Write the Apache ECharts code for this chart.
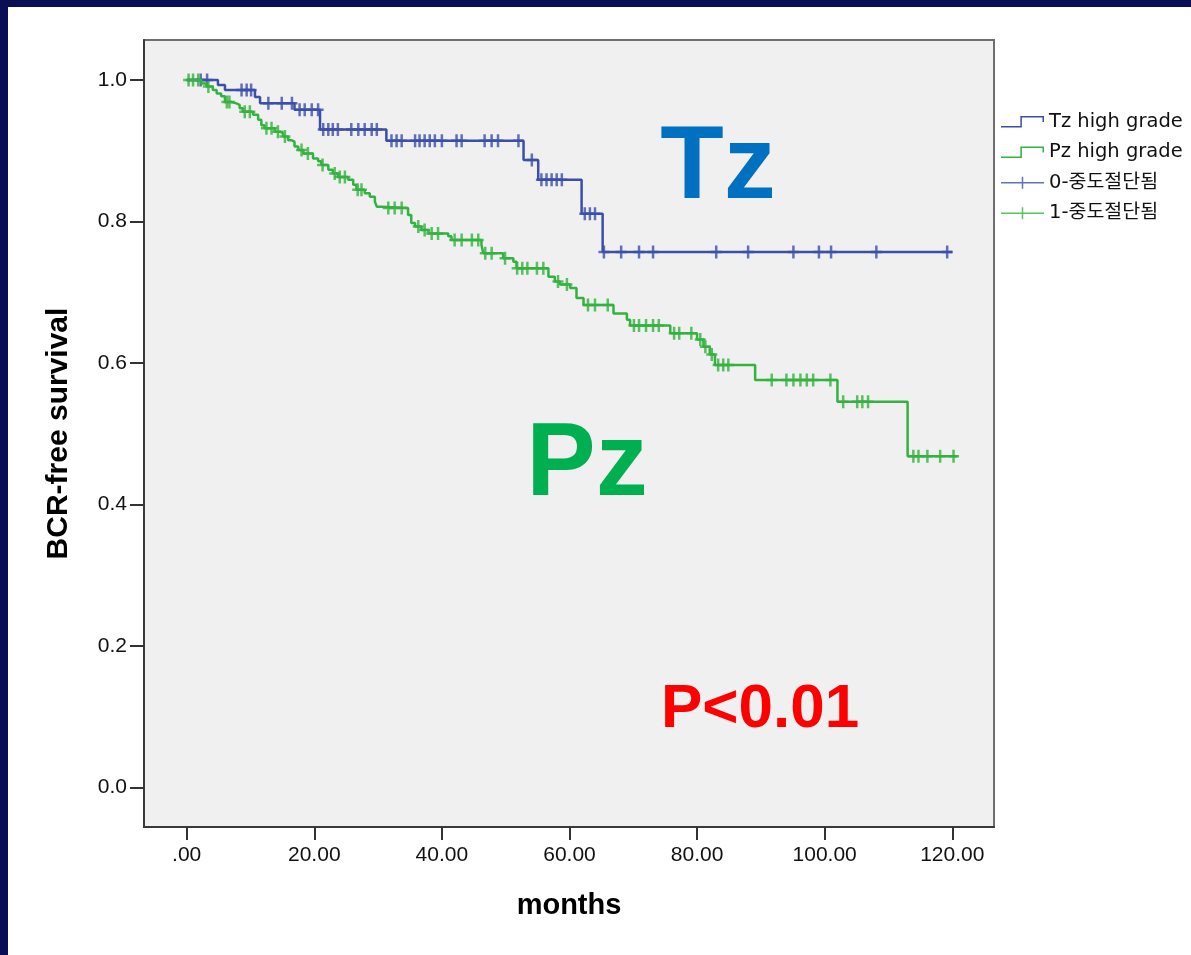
<!DOCTYPE html>
<html>
<head>
<meta charset="utf-8">
<title>BCR-free survival</title>
<script src="https://cdn.jsdelivr.net/npm/echarts@6.0.0/dist/echarts.min.js"></script>
<style>
  html, body { margin: 0; padding: 0; background: #fff; }
  #chart { width: 1191px; height: 955px; }
</style>
</head>
<body>
<div id="chart"></div>
<script>
// Kaplan-Meier steps: time (months) where survival drops, and the new level
const tzTimes = [0, 4.9, 6.0, 10.7, 11.5, 16.9, 20.9, 31.3, 52.8, 55.1, 61.9, 65.2, 120];
const tzSurv = [1.0, 0.993, 0.986, 0.976, 0.967, 0.958, 0.930, 0.914, 0.887, 0.859, 0.811, 0.757, 0.757];
const tzCensor = [2.2, 3.2, 8.6, 9.4, 10.1, 12.8, 14.9, 16.5, 17.7, 18.5, 19.6, 20.6, 21.4, 22.2, 22.9, 23.7,
  25.8, 26.9, 27.9, 29.0, 29.8, 32.1, 32.9, 33.7, 35.8, 36.5, 37.3, 38.1, 38.9, 40.0, 42.3, 43.1, 46.7, 47.8,
  48.8, 52.0, 54.1, 55.6, 56.4, 57.2, 58.0, 58.8, 62.4, 63.2, 64.0, 65.4, 68.1, 70.9, 73.1, 83.0, 88.0, 95.1,
  99.1, 101.0, 108.1, 119.2];

const pzTimes = [0, 2.3, 3.1, 4.1, 4.7, 5.4, 6.0, 7.0, 7.8, 8.3, 8.8, 10.4, 11.2, 11.7, 12.2, 13.8, 14.6, 15.1,
  15.9, 16.4, 16.9, 17.5, 18.3, 19.8, 20.6, 21.1, 22.2, 22.9, 23.7, 25.3, 26.1, 26.6, 27.9, 28.7, 29.5, 29.8,
  30.5, 34.7, 35.2, 35.8, 36.8, 37.9, 41.0, 41.5, 46.2, 46.5, 49.6, 51.2, 51.7, 56.7, 57.7, 58.5, 60.1, 61.1,
  62.2, 66.9, 69.0, 69.5, 75.8, 80.0, 81.0, 82.0, 82.8, 89.1, 102.0, 113.0, 120.8];
const pzSurv = [1.0, 0.995, 0.991, 0.986, 0.981, 0.977, 0.969, 0.967, 0.965, 0.960, 0.955, 0.951, 0.944, 0.936,
  0.932, 0.927, 0.925, 0.920, 0.915, 0.913, 0.906, 0.901, 0.896, 0.889, 0.885, 0.880, 0.873, 0.868, 0.863,
  0.859, 0.852, 0.845, 0.840, 0.835, 0.828, 0.821, 0.819, 0.809, 0.798, 0.793, 0.788, 0.783, 0.779, 0.774,
  0.767, 0.755, 0.748, 0.743, 0.734, 0.722, 0.715, 0.711, 0.706, 0.692, 0.682, 0.670, 0.661, 0.653, 0.642,
  0.633, 0.623, 0.612, 0.597, 0.576, 0.545, 0.468, 0.468];
const pzCensor = [0.3, 1.0, 1.8, 3.4, 6.3, 6.7, 9.1, 9.9, 12.5, 13.3, 14.3, 15.4, 18.0, 19.0, 21.3, 23.2, 24.0,
  24.8, 26.8, 27.4, 31.6, 32.6, 33.7, 36.3, 37.3, 38.4, 39.4, 42.0, 43.1, 44.7, 45.7, 46.8, 47.8, 49.9, 51.8,
  52.6, 53.4, 54.9, 55.9, 58.2, 59.6, 62.9, 64.0, 66.0, 70.1, 70.9, 72.0, 73.1, 74.0, 76.4, 77.2, 79.1, 80.5,
  81.3, 82.3, 83.3, 84.1, 84.9, 91.7, 94.0, 95.1, 96.2, 97.2, 98.2, 100.9, 102.9, 105.1, 105.9, 106.8, 113.9,
  114.7, 116.1, 118.1, 120.2];

const seriesNames = ['Tz high grade', 'Pz high grade', '0-중도절단됨', '1-중도절단됨'];
const xTicks = [0, 20, 40, 60, 80, 100, 120];
const yTicks = [0, 0.2, 0.4, 0.6, 0.8, 1.0];

const blue = '#3b4fa9';
const green = '#33b23f';
const font = "'Liberation Sans', Arial, sans-serif";

function stepData(times, surv) {
  return times.map((t, i) => [t, surv[i]]);
}
// censored cases sit on the curve level at their time
function censorData(censor, times, surv) {
  return censor.map(c => {
    let s = surv[0];
    times.forEach((t, i) => { if (t <= c) s = surv[i]; });
    return [c, s];
  });
}

const plusSymbol = 'path://M0,5.25h11v2.5h-11z M4.25,0h2.5v13h-2.5z';
const stepIcon = 'path://M0,10.5h20.75v1.5h-20.75z M19.25,0.5h1.5v11.5h-1.5z M19.25,0.5h23.5v1.5h-23.5z M41.25,0.5h1.5v6h-1.5z';
const plusIcon = 'path://M0,5.25h43v1.5h-43z M20.75,0h1.5v12h-1.5z';

const chart = echarts.init(document.getElementById('chart'));
chart.setOption({
  animation: false,
  backgroundColor: '#fff',
  grid: {
    left: 144, top: 40, width: 850, height: 787,
    show: true, backgroundColor: '#f0f0f0', borderColor: '#6e6e6e', borderWidth: 2
  },
  legend: {
    orient: 'vertical', left: 996, top: 107,
    itemWidth: 43, itemHeight: 12, itemGap: 11,
    selectedMode: false,
    itemStyle: { borderWidth: 0 },
    textStyle: { fontFamily: "'DejaVu Sans', 'Noto Sans CJK KR', sans-serif", fontSize: 19.5, color: '#111' },
    data: [
      { name: seriesNames[0], icon: stepIcon },
      { name: seriesNames[1], icon: stepIcon },
      { name: seriesNames[2], icon: plusIcon },
      { name: seriesNames[3], icon: plusIcon }
    ]
  },
  xAxis: {
    type: 'value', min: -6.69, max: 126.54,
    name: 'months', nameLocation: 'middle', nameGap: 64,
    nameTextStyle: { fontFamily: font, fontSize: 29, fontWeight: 'bold', color: '#000' },
    axisLine: { show: true, onZero: false, lineStyle: { color: '#3a3a3a', width: 2 } },
    axisTick: { show: true, length: 13, customValues: xTicks, lineStyle: { color: '#333', width: 2 } },
    axisLabel: {
      customValues: xTicks, margin: 18, fontFamily: font, fontSize: 21, color: '#111',
      formatter: v => v === 0 ? '.00' : v.toFixed(2)
    },
    splitLine: { show: false }
  },
  yAxis: {
    type: 'value', min: -0.0561, max: 1.0566,
    name: 'BCR-free survival', nameLocation: 'middle', nameGap: 70,
    nameTextStyle: { fontFamily: font, fontSize: 30, fontWeight: 'bold', color: '#000' },
    axisLine: { show: true, onZero: false, lineStyle: { color: '#3a3a3a', width: 2 } },
    axisTick: { show: true, length: 14, customValues: yTicks, lineStyle: { color: '#333', width: 2 } },
    axisLabel: {
      customValues: yTicks, margin: 17, fontFamily: font, fontSize: 21, color: '#111',
      formatter: v => v.toFixed(1)
    },
    splitLine: { show: false }
  },
  series: [
    {
      name: seriesNames[0], type: 'line', step: 'end', symbol: 'none', silent: true,
      lineStyle: { color: blue, width: 2.5 }, itemStyle: { color: blue },
      data: stepData(tzTimes, tzSurv)
    },
    {
      name: seriesNames[2], type: 'scatter', symbol: plusSymbol, symbolSize: [11, 13], silent: true,
      itemStyle: { color: blue },
      data: censorData(tzCensor, tzTimes, tzSurv)
    },
    {
      name: seriesNames[1], type: 'line', step: 'end', symbol: 'none', silent: true,
      lineStyle: { color: green, width: 2.5 }, itemStyle: { color: green },
      data: stepData(pzTimes, pzSurv)
    },
    {
      name: seriesNames[3], type: 'scatter', symbol: plusSymbol, symbolSize: [11, 13], silent: true,
      itemStyle: { color: green },
      data: censorData(pzCensor, pzTimes, pzSurv)
    }
  ],
  graphic: [
    // dark slide frame
    { type: 'rect', shape: { x: 0, y: 0, width: 1191, height: 7 }, style: { fill: '#0a0e55' } },
    { type: 'rect', shape: { x: 0, y: 0, width: 8, height: 955 }, style: { fill: '#0a0e55' } },
    { type: 'text', x: 718, y: 169, style: { text: 'Tz', font: "bold 104px 'Liberation Sans', Arial", fill: '#0070c0', align: 'center', verticalAlign: 'middle' } },
    { type: 'text', x: 587, y: 466, style: { text: 'Pz', font: "bold 104px 'Liberation Sans', Arial", fill: '#00b050', align: 'center', verticalAlign: 'middle' } },
    { type: 'text', x: 760, y: 710, style: { text: 'P<0.01', font: "bold 62px 'Liberation Sans', Arial", fill: '#ff0000', align: 'center', verticalAlign: 'middle' } }
  ]
});
</script>
</body>
</html>
